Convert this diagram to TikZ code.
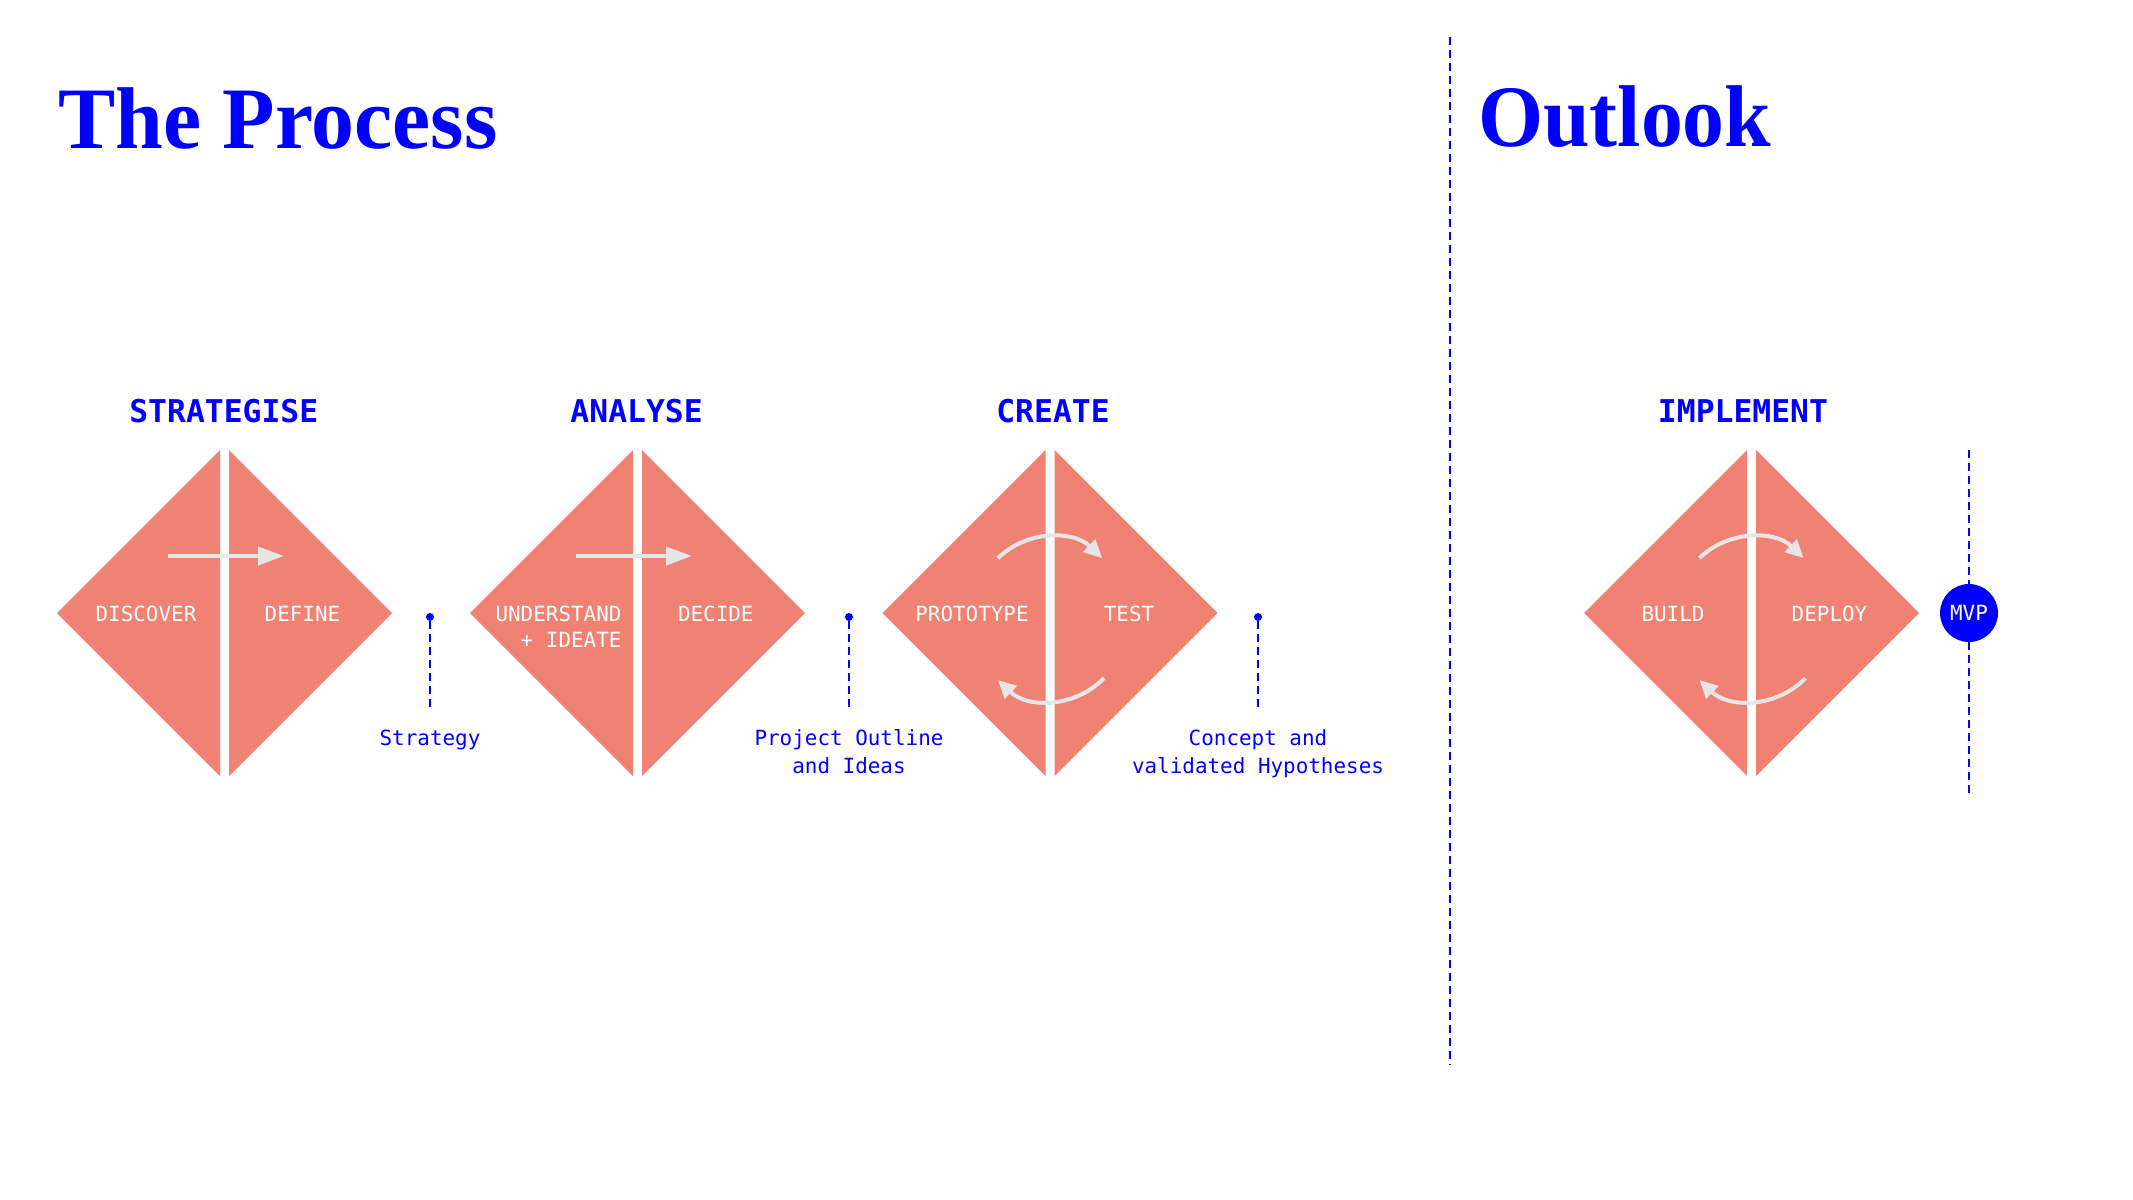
\documentclass[tikz,border=0pt]{standalone}
\usepackage{fontspec}
\usetikzlibrary{arrows.meta}
\newfontfamily\plexmono{DejaVu Sans Mono}
\newfontfamily\displayserif{Liberation Serif}[FakeStretch=0.955]
\definecolor{ink}{HTML}{0000FF}
\definecolor{salmon}{HTML}{F08273}
\definecolor{flow}{HTML}{E6E6E6}

\begin{document}
\begin{tikzpicture}[x=1bp,y=-1bp,
  phase/.style={font=\plexmono\bfseries\fontsize{31.5}{36}\selectfont, text=ink, anchor=base, inner sep=0},
  inlabel/.style={font=\plexmono\fontsize{21}{26}\selectfont, text=white, anchor=base, inner sep=0},
  outcome/.style={font=\plexmono\fontsize{21}{28}\selectfont, text=ink, anchor=base, inner sep=0, align=center},
  pin/.style={circle, fill=ink, inner sep=0, minimum size=8bp},
  leader/.style={draw=ink, line width=2.5bp, dash pattern=on 8bp off 5bp},
  flowline/.style={draw=flow, line width=4bp},
  straighttip/.style={-{Triangle[length=26bp,width=18bp]}},
  curvetip/.style={-{Triangle[length=18bp,width=17bp]}},
  title/.style={font=\displayserif\bfseries\fontsize{88}{96}\selectfont, text=ink, anchor=base west, inner sep=0},
  pics/halves/.style={code={
    \fill[salmon] (-167.5,0) -- (-4.5,-163) -- (-4.5,163) -- cycle;
    \fill[salmon] (167.5,0) -- (4.5,-163) -- (4.5,163) -- cycle;
  }},
]
\useasboundingbox[fill=white] (0,0) rectangle (2133,1199);

% titles
\node[title] (process) at (58,148) {\scalebox{1.025}[1]{The Process}};
\node[title] (outlook) at (1478,146) {Outlook};

% divider between process and outlook
\coordinate (divtop) at (1450,37);
\coordinate (divbot) at (1450,1065);
\draw[leader] (divtop) -- (divbot);

% phase headings
\node[phase] (strategise) at (223.8,422) {STRATEGISE};
\node[phase] (analyse) at (636.6,422) {ANALYSE};
\node[phase] (create) at (1053,422) {CREATE};
\node[phase] (implement) at (1743,422) {IMPLEMENT};

% split diamonds
\pic at (224.5,613) {halves};
\pic at (637.5,613) {halves};
\pic at (1050,613) {halves};
\pic at (1751.5,613) {halves};

% linear flow arrows
\coordinate (s1) at (168,556); \coordinate (e1) at (284,556);
\draw[flowline, straighttip] (s1) -- (e1);
\coordinate (s2) at (576,556); \coordinate (e2) at (692,556);
\draw[flowline, straighttip] (s2) -- (e2);

% iteration loops
\coordinate (u3) at (997.9,558.1); \coordinate (b3) at (1104,678.1);
\draw[flowline, curvetip] (u3) arc[start angle=134, end angle=46, radius=75bp];
\draw[flowline, curvetip] (b3) arc[start angle=-44, end angle=-134, radius=75bp];
\coordinate (u4) at (1699.4,558.1); \coordinate (b4) at (1805.5,678.1);
\draw[flowline, curvetip] (u4) arc[start angle=134, end angle=46, radius=75bp];
\draw[flowline, curvetip] (b4) arc[start angle=-44, end angle=-134, radius=75bp];

% step labels (multi-line nodes sit on the baseline of their last line)
\node[inlabel] (discover) at (146,621) {DISCOVER};
\node[inlabel] (define) at (302.5,621) {DEFINE};
\node[inlabel, anchor=base east, align=right] (understand) at (621.7,647) {UNDERSTAND\\+ IDEATE};
\node[inlabel] (decide) at (715.8,621) {DECIDE};
\node[inlabel] (prototype) at (972,621) {PROTOTYPE};
\node[inlabel] (test) at (1129,621) {TEST};
\node[inlabel] (build) at (1673,621) {BUILD};
\node[inlabel] (deploy) at (1829.5,621) {DEPLOY};

% outcomes
\node[pin] (p1) at (430,617) {};
\coordinate (q1) at (430,710);
\draw[leader] (p1) -- (q1);
\node[outcome] (strategy) at (430,745) {Strategy};

\node[pin] (p2) at (849,617) {};
\coordinate (q2) at (849,710);
\draw[leader] (p2) -- (q2);
\node[outcome] (outline) at (849,773) {Project Outline\\and Ideas};

\node[pin] (p3) at (1258,617) {};
\coordinate (q3) at (1258,710);
\draw[leader] (p3) -- (q3);
\node[outcome] (concept) at (1258,773) {Concept and\\validated Hypotheses};

% milestone
\node[circle, fill=ink, minimum size=58bp, inner sep=0, text=white,
      font=\plexmono\fontsize{21}{26}\selectfont] (mvp) at (1969,613) {MVP};
\coordinate (mvptop) at (1969,450);
\coordinate (mvpbot) at (1969,795);
\draw[leader] (mvptop) -- (mvp.north);
\draw[leader] (mvp.south) -- (mvpbot);
\end{tikzpicture}
\end{document}
